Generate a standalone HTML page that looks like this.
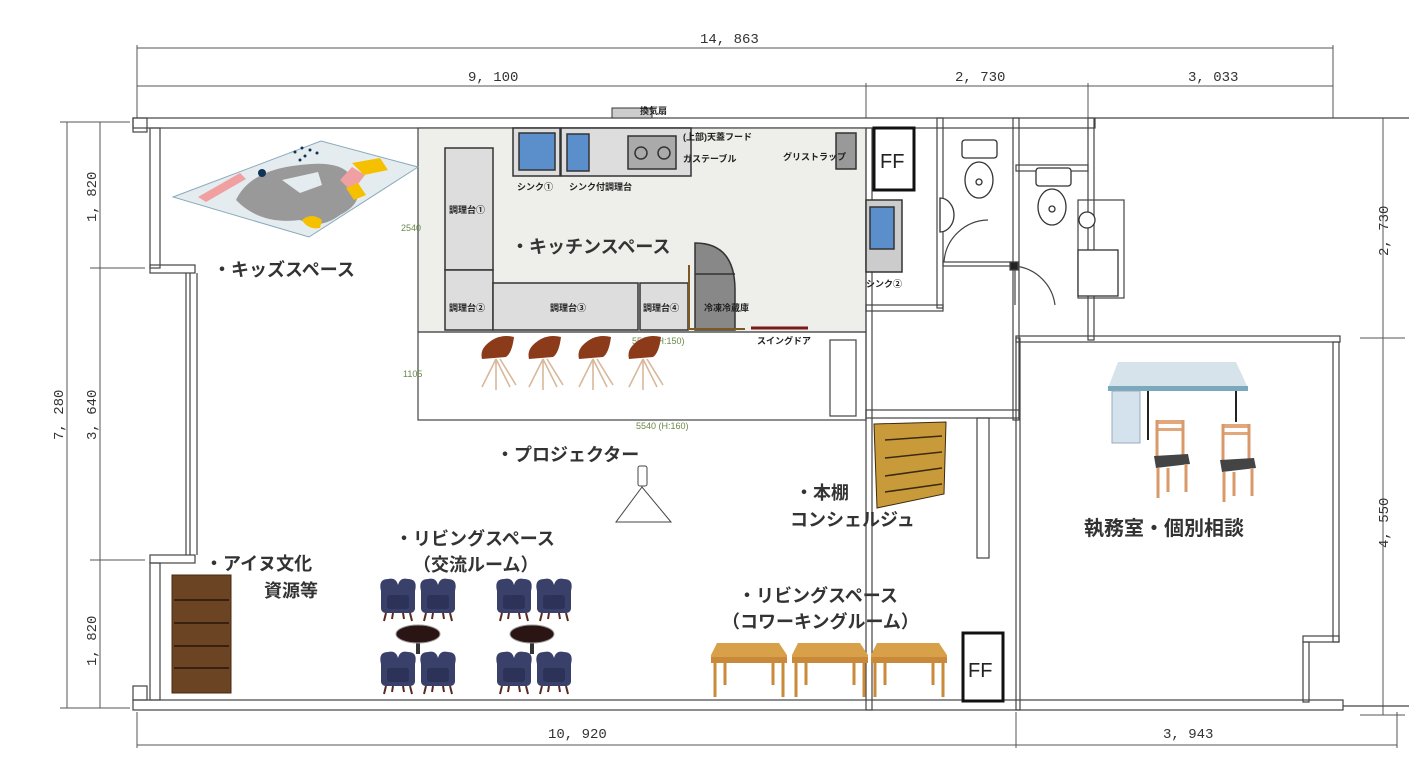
<!DOCTYPE html>
<html><head><meta charset="utf-8"><style>
html,body{margin:0;padding:0;background:#fff;width:1409px;height:777px;overflow:hidden}
svg{display:block}
text{font-family:"Liberation Sans","Noto Sans CJK JP",sans-serif}
.lb{font-size:18px;fill:#333;font-weight:bold}
.sm{font-size:9px;fill:#222;font-weight:bold}
.dm{font-size:14px;fill:#333;font-family:"Liberation Mono","DejaVu Sans Mono",monospace}
.gr{font-size:9px;fill:#6a8a4a}
</style></head><body>
<svg width="1409" height="777" viewBox="0 0 1409 777" xmlns="http://www.w3.org/2000/svg">
<defs>
<g id="arm">
<path d="M3,14 Q0,2 10,2 Q18,0 20,8 Q22,0 30,2 Q40,2 37,14 L37,32 Q36,36 32,36 L8,36 Q4,36 3,32 Z" fill="#39406a"/>
<rect x="9" y="18" width="22" height="14" rx="3" fill="#2c3258"/>
<path d="M8,36 l-2,8 M32,36 l2,8 M15,36 l-1,6 M25,36 l1,6" stroke="#5a2a22" stroke-width="2"/>
</g>
<g id="bar">
<path d="M8,10 Q20,-2 36,2 Q34,18 28,22 L4,24 Q2,16 8,10Z" fill="#8b3a1a"/>
<path d="M18,24 L4,52 M18,24 L32,52 M18,24 L18,55 M22,24 L38,50" stroke="#d9b89a" stroke-width="1.6"/>
</g>
<g id="desk">
<path d="M6,0 L68,0 L76,12 L76,20 L0,20 L0,12 Z" fill="#d9a04a"/>
<rect x="0" y="14" width="76" height="6" fill="#c8893a"/>
<path d="M4,20 v34 M72,20 v34 M14,20 v22 M62,20 v22" stroke="#c98a3a" stroke-width="3"/>
</g>
<g id="wchair">
<rect x="4" y="0" width="28" height="4" fill="#e2a77a"/>
<rect x="4" y="8" width="28" height="3" fill="#e2a77a"/>
<path d="M5,0 v40 M31,0 v40" stroke="#d89a6a" stroke-width="3"/>
<path d="M2,36 L36,34 L38,44 L4,48 Z" fill="#444"/>
<path d="M6,48 v30 M34,44 v28 M16,48 v24" stroke="#d89a6a" stroke-width="3"/>
</g>
</defs>

<!-- dimension lines -->
<g stroke="#555" stroke-width="1" fill="none">
<line x1="137" y1="48" x2="1333" y2="48"/>
<line x1="137" y1="86" x2="1333" y2="86"/>
<line x1="137" y1="45" x2="137" y2="118"/>
<line x1="1333" y1="45" x2="1333" y2="118"/>
<line x1="866" y1="83" x2="866" y2="118"/>
<line x1="1088" y1="83" x2="1088" y2="118"/>
<line x1="67" y1="122" x2="67" y2="708"/>
<line x1="100" y1="122" x2="100" y2="708"/>
<line x1="60" y1="122" x2="130" y2="122"/>
<line x1="60" y1="708" x2="130" y2="708"/>
<line x1="90" y1="268" x2="145" y2="268"/>
<line x1="90" y1="560" x2="145" y2="560"/>
<line x1="1383" y1="118" x2="1383" y2="715"/>
<line x1="1360" y1="118" x2="1405" y2="118"/>
<line x1="1360" y1="338" x2="1405" y2="338"/>
<line x1="1360" y1="715" x2="1405" y2="715"/>
<line x1="137" y1="745" x2="1397" y2="745"/>
<line x1="137" y1="712" x2="137" y2="748"/>
<line x1="1016" y1="712" x2="1016" y2="748"/>
<line x1="1397" y1="712" x2="1397" y2="748"/>
</g>
<text class="dm" x="700" y="43">14, 863</text>
<text class="dm" x="468" y="81">9, 100</text>
<text class="dm" x="955" y="81">2, 730</text>
<text class="dm" x="1188" y="81">3, 033</text>
<text class="dm" x="1163" y="738">3, 943</text>
<text class="dm" x="548" y="738">10, 920</text>
<text class="dm" transform="translate(63,440) rotate(-90)">7, 280</text>
<text class="dm" transform="translate(96,222) rotate(-90)">1, 820</text>
<text class="dm" transform="translate(96,440) rotate(-90)">3, 640</text>
<text class="dm" transform="translate(96,666) rotate(-90)">1, 820</text>
<text class="dm" transform="translate(1388,256) rotate(-90)">2, 730</text>
<text class="dm" transform="translate(1388,548) rotate(-90)">4, 550</text>

<!-- walls -->
<g stroke="#444" stroke-width="1.2" fill="none">
<rect x="133" y="118" width="962" height="10"/>
<line x1="1095" y1="118" x2="1409" y2="118"/>
<rect x="133" y="700" width="1210" height="10"/>
<line x1="1343" y1="706" x2="1409" y2="706"/>
<rect x="133" y="118" width="14" height="14"/><rect x="150" y="128" width="10" height="140"/>
<rect x="150" y="265" width="45" height="8"/>
<line x1="186" y1="273" x2="186" y2="555"/><line x1="190" y1="273" x2="190" y2="555"/><line x1="197" y1="273" x2="197" y2="555"/>
<rect x="150" y="555" width="45" height="8"/>
<rect x="150" y="563" width="10" height="137"/>
<rect x="133" y="686" width="14" height="14"/>
<rect x="418" y="128" width="448" height="204" fill="#eeeeea"/>
<rect x="418" y="332" width="448" height="88"/>
<rect x="866" y="128" width="6" height="582"/>
<rect x="937" y="118" width="6" height="190"/>
<rect x="866" y="305" width="77" height="6"/>
<rect x="1013" y="118" width="6" height="302"/>
<rect x="1016" y="338" width="4" height="372"/>
<rect x="1088" y="118" width="6" height="222"/>
<rect x="1016" y="336" width="324" height="6"/>
<rect x="1333" y="342" width="6" height="300"/>
<rect x="1303" y="636" width="36" height="6"/>
<rect x="1303" y="642" width="6" height="60"/>
<rect x="866" y="410" width="153" height="8"/>
<rect x="977" y="418" width="12" height="140"/>
<rect x="830" y="340" width="26" height="76"/>
<rect x="1016" y="165" width="72" height="6"/>
<rect x="943" y="262" width="75" height="4"/>
<path d="M944,262 A45,45 0 0 1 988,220"/>
<path d="M1015,266 L1015,305 M1015,266 A45,45 0 0 1 1055,305"/>
<rect x="1010" y="262" width="8" height="8" fill="#222"/>
<rect x="1078" y="200" width="46" height="98"/>
<rect x="1088" y="96" width="46" height="110" fill="none" stroke="none"/>
</g>

<!-- toilets -->
<g stroke="#333" stroke-width="1.3" fill="#fff">
<rect x="962" y="140" width="35" height="18" rx="3"/>
<ellipse cx="979" cy="180" rx="14" ry="18"/><circle cx="979" cy="182" r="3"/>
<rect x="1036" y="168" width="35" height="18" rx="3"/>
<ellipse cx="1052" cy="207" rx="14" ry="18"/><circle cx="1052" cy="209" r="3"/>
<path d="M940,198 A14,17 0 0 1 940,232 Z"/>
<circle cx="1087" cy="220" r="8"/>
<rect x="1078" y="250" width="40" height="46"/>
</g>

<!-- kitchen equipment -->
<g stroke="#333" stroke-width="1.5">
<rect x="513" y="128" width="47" height="48" fill="#ddd"/><rect x="519" y="133" width="36" height="37" fill="#5b8fcc"/>
<rect x="561" y="128" width="130" height="48" fill="#ddd"/><rect x="567" y="134" width="22" height="37" fill="#5b8fcc"/>
<rect x="628" y="136" width="48" height="33" fill="#aaa"/><circle cx="641" cy="153" r="6" fill="none"/><circle cx="664" cy="153" r="6" fill="none"/>
<rect x="612" y="108" width="40" height="10" fill="#ccc" stroke-width="1"/>
<rect x="445" y="148" width="48" height="122" fill="#ddd"/>
<rect x="445" y="270" width="48" height="60" fill="#ddd"/>
<rect x="493" y="283" width="145" height="47" fill="#ddd"/>
<rect x="640" y="283" width="48" height="47" fill="#ddd"/>
<path d="M695,330 L695,243 Q735,243 735,290 L735,330 Z" fill="#888"/>
<line x1="695" y1="274" x2="735" y2="274"/>
<rect x="836" y="133" width="20" height="36" fill="#999"/>
<rect x="866" y="200" width="36" height="72" fill="#ccc"/><rect x="870" y="207" width="24" height="42" fill="#5b8fcc"/>
<rect x="874" y="128" width="40" height="62" fill="#fff" stroke="#111" stroke-width="3"/>
<rect x="963" y="633" width="40" height="68" fill="#fff" stroke="#111" stroke-width="3"/>
</g>
<line x1="689" y1="265" x2="689" y2="330" stroke="#7a5a20" stroke-width="2"/>
<line x1="689" y1="329" x2="745" y2="329" stroke="#7a5a20" stroke-width="2"/>
<line x1="751" y1="328" x2="808" y2="328" stroke="#7a1a1a" stroke-width="3"/>
<text x="880" y="168" style="font-size:20px;fill:#222">FF</text>
<text x="968" y="677" style="font-size:20px;fill:#222">FF</text>
<text class="sm" x="640" y="114">換気扇</text>
<text class="sm" x="683" y="140">(上部)天蓋フード</text>
<text class="sm" x="683" y="162">ガステーブル</text>
<text class="sm" x="783" y="160">グリストラップ</text>
<text class="sm" x="517" y="190">シンク①</text>
<text class="sm" x="569" y="190">シンク付調理台</text>
<text class="sm" x="449" y="213">調理台①</text>
<text class="sm" x="449" y="311">調理台②</text>
<text class="sm" x="550" y="311">調理台③</text>
<text class="sm" x="643" y="311">調理台④</text>
<text class="sm" x="704" y="311">冷凍冷蔵庫</text>
<text class="sm" x="866" y="287">シンク②</text>
<text class="sm" x="757" y="344">スイングドア</text>
<text class="gr" x="401" y="231">2540</text>
<text class="gr" x="403" y="377">1105</text>
<text class="gr" x="632" y="344">5540 (H:150)</text>
<text class="gr" x="636" y="429">5540 (H:160)</text>

<!-- kids mat -->
<path d="M173,197 L321,141 L418,167 L309,237 Z" fill="#e4ecf0" stroke="#8ab" stroke-width="1"/>
<path d="M236,200 Q250,170 300,165 Q340,160 350,175 Q370,200 340,215 Q320,230 300,220 Q260,225 236,200Z" fill="#999"/>
<path d="M282,180 L318,172 L322,185 L300,193 Z" fill="#e4ecf0"/>
<path d="M198,197 L240,173 L246,179 L206,202 Z" fill="#f0a0a0"/>
<path d="M340,180 L352,167 L365,175 L352,192 Z" fill="#f0a0a0"/>
<path d="M352,163 L380,158 L388,170 L364,175 Z" fill="#f5c000"/>
<path d="M346,188 L358,183 L366,195 L354,200 Z" fill="#f5c000"/>
<path d="M302,220 Q312,212 322,220 L320,228 Q308,230 302,220Z" fill="#f5c000"/>
<circle cx="262" cy="173" r="4" fill="#135"/>
<g fill="#135"><circle cx="295" cy="152" r="1.5"/><circle cx="302" cy="148" r="1.5"/><circle cx="310" cy="150" r="1.5"/><circle cx="317" cy="153" r="1.5"/><circle cx="305" cy="156" r="1.5"/><circle cx="300" cy="160" r="1.5"/></g>

<!-- bar chairs -->
<use href="#bar" x="478" y="335"/><use href="#bar" x="525" y="335"/><use href="#bar" x="575" y="335"/><use href="#bar" x="625" y="335"/>

<!-- projector -->
<rect x="638" y="466" width="9" height="20" rx="2" fill="#fff" stroke="#444"/>
<path d="M642,487 L616,522 L671,522 Z" fill="none" stroke="#444"/>

<!-- bookshelf ainu -->
<rect x="172" y="575" width="59" height="118" fill="#6b4423" stroke="#4a2a10"/>
<g stroke="#3a2010" stroke-width="2"><line x1="174" y1="600" x2="229" y2="600"/><line x1="174" y1="623" x2="229" y2="623"/><line x1="174" y1="646" x2="229" y2="646"/><line x1="174" y1="668" x2="229" y2="668"/></g>

<!-- armchairs -->
<use href="#arm" x="378" y="577"/><use href="#arm" x="418" y="577"/>
<use href="#arm" x="378" y="650"/><use href="#arm" x="418" y="650"/>
<use href="#arm" x="494" y="577"/><use href="#arm" x="534" y="577"/>
<use href="#arm" x="494" y="650"/><use href="#arm" x="534" y="650"/>
<rect x="416" y="636" width="4" height="18" fill="#333"/><rect x="530" y="636" width="4" height="18" fill="#333"/>
<ellipse cx="418" cy="634" rx="22" ry="9" fill="#2a1414" stroke="#999"/>
<ellipse cx="532" cy="634" rx="22" ry="9" fill="#2a1414" stroke="#999"/>

<!-- shelf honda -->
<path d="M874,424 L946,422 L944,494 L877,508 Z" fill="#c99a3a" stroke="#3a2a10"/>
<g stroke="#3a2a10" stroke-width="1.5"><line x1="885" y1="440" x2="942" y2="436"/><line x1="885" y1="458" x2="942" y2="452"/><line x1="885" y1="476" x2="942" y2="468"/><line x1="885" y1="492" x2="942" y2="484"/></g>

<!-- desks -->
<use href="#desk" x="711" y="643"/><use href="#desk" x="792" y="643"/><use href="#desk" x="871" y="643"/>

<!-- office desk -->
<path d="M1118,362 L1236,362 L1248,388 L1108,388 Z" fill="#d7e3ea"/>
<rect x="1108" y="386" width="140" height="5" fill="#7aa9bd"/>
<rect x="1112" y="391" width="28" height="52" fill="#d4e2ee" stroke="#9ab"/>
<line x1="1236" y1="391" x2="1236" y2="422" stroke="#222" stroke-width="2"/>
<line x1="1148" y1="391" x2="1148" y2="440" stroke="#222" stroke-width="2"/>
<use href="#wchair" x="1152" y="420"/><use href="#wchair" x="1218" y="424"/>

<!-- labels -->
<text class="lb" x="213" y="276">・キッズスペース</text>
<text class="lb" x="511" y="253">・キッチンスペース</text>
<text class="lb" x="496" y="461">・プロジェクター</text>
<text class="lb" x="205" y="570">・アイヌ文化</text>
<text class="lb" x="264" y="597">資源等</text>
<text class="lb" x="395" y="545">・リビングスペース</text>
<text class="lb" x="413" y="571">（交流ルーム）</text>
<text class="lb" x="795" y="499">・本棚</text>
<text class="lb" x="790" y="526">コンシェルジュ</text>
<text class="lb" x="1084" y="535" style="font-size:20px">執務室・個別相談</text>
<text class="lb" x="738" y="602">・リビングスペース</text>
<text class="lb" x="722" y="628">（コワーキングルーム）</text>
</svg>
</body></html>
